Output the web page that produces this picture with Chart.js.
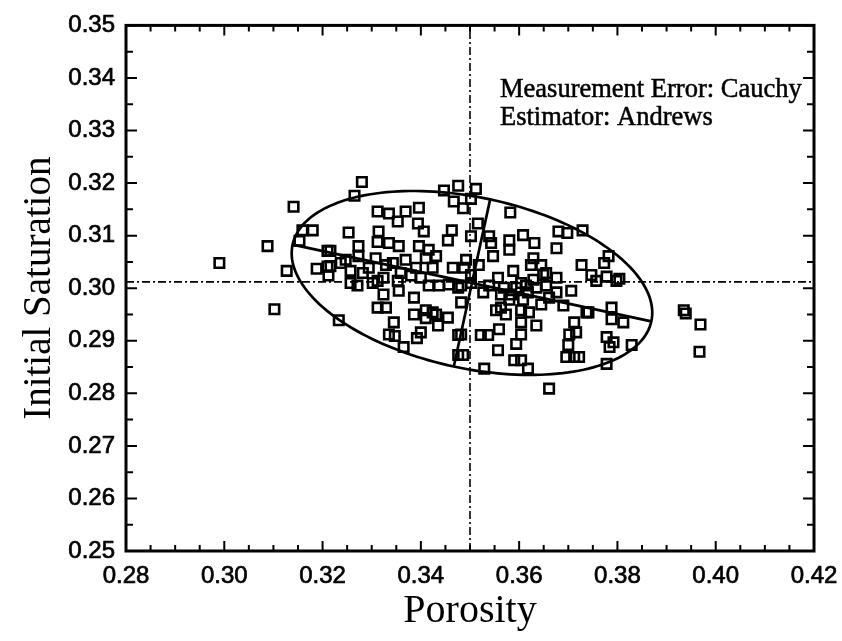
<!DOCTYPE html>
<html lang="en">
<head>
<meta charset="UTF-8" />
<title>Initial Saturation vs Porosity</title>
<script src="https://cdn.jsdelivr.net/npm/chart.js"></script>
<style>
  html, body { margin: 0; padding: 0; background: #fff; }
  .wrap { width: 842px; height: 641px; }
</style>
</head>
<body>
<div class="wrap"><canvas id="satChart" width="842" height="641"></canvas></div>
<script>
// sample estimates
const porosity = [
  0.2990, 0.3088, 0.3102, 0.3141, 0.3127, 0.3159, 0.3180, 0.3153, 0.3188, 0.3210,
  0.3210, 0.3280, 0.3265, 0.3447, 0.3476, 0.3467, 0.3312, 0.3335, 0.3353, 0.3369,
  0.3396, 0.3394, 0.3406, 0.3253, 0.3314, 0.3312, 0.3335, 0.3355, 0.3463, 0.3455,
  0.3273, 0.3216, 0.3396, 0.3416, 0.3247, 0.3273, 0.3308, 0.3294, 0.3343, 0.3369,
  0.3390, 0.3410, 0.3431, 0.3424, 0.3216, 0.3257, 0.3465, 0.3512, 0.3502, 0.3486,
  0.3582, 0.3516, 0.3502, 0.3539, 0.3543, 0.3580, 0.3608, 0.3631, 0.3580, 0.3547,
  0.3629, 0.3624, 0.3680, 0.3698, 0.3729, 0.3676, 0.3727, 0.3492, 0.3488, 0.3588,
  0.3655, 0.3782, 0.3773, 0.3747, 0.3778, 0.3804, 0.3233, 0.3257, 0.3271, 0.3312,
  0.3324, 0.3312, 0.3329, 0.3345, 0.3335, 0.3347, 0.3365, 0.3355, 0.3386, 0.3386,
  0.3410, 0.3410, 0.3431, 0.3455, 0.3435, 0.3400, 0.3392, 0.3416, 0.3437, 0.3457,
  0.3476, 0.3302, 0.3324, 0.3353, 0.3380, 0.3212, 0.3476, 0.3476, 0.3502, 0.3527,
  0.3482, 0.3553, 0.3580, 0.3608, 0.3604, 0.3604, 0.3635, 0.3604, 0.3594, 0.3559,
  0.3522, 0.3537, 0.3557, 0.3486, 0.3482, 0.3529, 0.3590, 0.3604, 0.3618, 0.3661,
  0.3702, 0.3700, 0.3712, 0.3737, 0.3712, 0.3722, 0.3706, 0.3655, 0.3676, 0.3690,
  0.3629, 0.3649, 0.3635, 0.3618, 0.3569, 0.3584, 0.3557, 0.3539, 0.3482, 0.3757,
  0.3798, 0.3741, 0.3788, 0.3788, 0.3812, 0.3778, 0.3792, 0.3784, 0.3829, 0.3778,
  0.3935, 0.3939, 0.3969, 0.3967, 0.3563, 0.3573, 0.3716, 0.3696, 0.3424, 0.3502,
  0.3518, 0.3614, 0.3645, 0.3676, 0.3594, 0.3604, 0.3563, 0.3661, 0.3645, 0.3620,
  0.3237, 0.3282, 0.3329, 0.3359, 0.3400
];
const saturation = [
  0.3048, 0.3080, 0.2960, 0.3155, 0.3033, 0.3110, 0.3110, 0.3090, 0.3037, 0.3071,
  0.3041, 0.3202, 0.3176, 0.3186, 0.3195, 0.3165, 0.3146, 0.3142, 0.3127, 0.3146,
  0.3153, 0.3123, 0.3108, 0.3106, 0.3108, 0.3088, 0.3086, 0.3080, 0.3110, 0.3091,
  0.3080, 0.3071, 0.3080, 0.3073, 0.3054, 0.3061, 0.3057, 0.3039, 0.3048, 0.3054,
  0.3039, 0.3057, 0.3061, 0.3039, 0.3042, 0.3033, 0.3039, 0.3189, 0.3170, 0.3152,
  0.3144, 0.3123, 0.3099, 0.3099, 0.3086, 0.3091, 0.3101, 0.3086, 0.3073, 0.3061,
  0.3057, 0.3044, 0.3108, 0.3105, 0.3110, 0.3076, 0.3044, 0.3054, 0.3039, 0.3033,
  0.3029, 0.3061, 0.3048, 0.3025, 0.3022, 0.3018, 0.2939, 0.3010, 0.3005, 0.3014,
  0.2988, 0.2963, 0.2963, 0.2935, 0.2912, 0.2909, 0.2888, 0.2995, 0.2982, 0.2950,
  0.2958, 0.2943, 0.2950, 0.2944, 0.2929, 0.2916, 0.2905, 0.3005, 0.3005, 0.3007,
  0.3001, 0.3010, 0.3020, 0.3014, 0.3024, 0.3024, 0.2911, 0.2873, 0.3010, 0.2992,
  0.2973, 0.2958, 0.2978, 0.2978, 0.2958, 0.2935, 0.2929, 0.2912, 0.2894, 0.2922,
  0.2911, 0.2911, 0.2882, 0.2873, 0.2912, 0.2847, 0.2863, 0.2863, 0.2847, 0.2809,
  0.2912, 0.2892, 0.2935, 0.2954, 0.2869, 0.2869, 0.2995, 0.3005, 0.2992, 0.2967,
  0.3016, 0.3025, 0.3001, 0.2992, 0.3001, 0.2988, 0.3020, 0.3005, 0.3005, 0.3014,
  0.3014, 0.2954, 0.2963, 0.2941, 0.2935, 0.2907, 0.2897, 0.2888, 0.2892, 0.2856,
  0.2958, 0.2952, 0.2931, 0.2879, 0.2963, 0.2950, 0.2916, 0.2869, 0.2954, 0.3025,
  0.3044, 0.3005, 0.3044, 0.3020, 0.3001, 0.3010, 0.2988, 0.2982, 0.2969, 0.2954,
  0.3048, 0.3029, 0.3044, 0.3029, 0.3020
];

// dash-dot reference lines (true values)
const trueX = 0.350;
const trueY = 0.3012;

// ellipse: centre, end of the long axis, end of the short axis
const ellipseCenter = [0.3504, 0.3010];
const ellipseMajorEnd = [0.3869, 0.2937];
const ellipseMinorEnd = [0.3541, 0.3169];

const notes = ['Measurement Error: Cauchy', 'Estimator: Andrews'];

const xMin = 0.28, xMax = 0.42, xStep = 0.02;
const yMin = 0.25, yMax = 0.35, yStep = 0.01;

const points = porosity.map((p, i) => ({ x: p, y: saturation[i] }));

// ellipse + its two axes, drawn through the scales
const ellipsePlugin = {
  id: 'ellipsePlugin',
  beforeDatasetsDraw(chart) {
    const { ctx, scales: { x, y } } = chart;
    const cx = x.getPixelForValue(ellipseCenter[0]);
    const cy = y.getPixelForValue(ellipseCenter[1]);
    const ax = x.getPixelForValue(ellipseMajorEnd[0]) - cx;
    const ay = y.getPixelForValue(ellipseMajorEnd[1]) - cy;
    const bx = x.getPixelForValue(ellipseMinorEnd[0]) - cx;
    const by = y.getPixelForValue(ellipseMinorEnd[1]) - cy;
    ctx.save();
    ctx.strokeStyle = '#000';
    ctx.lineWidth = 2.7;
    ctx.beginPath();
    for (let i = 0; i <= 180; i++) {
      const t = i / 180 * Math.PI * 2;
      const px = cx + ax * Math.cos(t) + bx * Math.sin(t);
      const py = cy + ay * Math.cos(t) + by * Math.sin(t);
      if (i === 0) ctx.moveTo(px, py); else ctx.lineTo(px, py);
    }
    ctx.closePath();
    ctx.stroke();
    ctx.beginPath();
    ctx.moveTo(cx - ax, cy - ay);
    ctx.lineTo(cx + ax, cy + ay);
    ctx.moveTo(cx - bx, cy - by);
    ctx.lineTo(cx + bx, cy + by);
    ctx.stroke();
    ctx.restore();
  }
};

// box frame, inward ticks, notes
const framePlugin = {
  id: 'framePlugin',
  afterDraw(chart) {
    const { ctx, chartArea: a, scales: { x, y } } = chart;
    ctx.save();
    ctx.strokeStyle = '#000';
    ctx.lineWidth = 2;
    ctx.beginPath();
    for (let i = 0; i <= 28; i++) {
      const px = x.getPixelForValue(xMin + i * 0.005);
      const len = i % 4 === 0 ? 10 : 6;
      ctx.moveTo(px, a.bottom); ctx.lineTo(px, a.bottom - len);
      ctx.moveTo(px, a.top); ctx.lineTo(px, a.top + len);
    }
    for (let i = 0; i <= 20; i++) {
      const py = y.getPixelForValue(yMin + i * 0.005);
      const len = i % 2 === 0 ? 11 : 7;
      ctx.moveTo(a.left, py); ctx.lineTo(a.left + len, py);
      ctx.moveTo(a.right, py); ctx.lineTo(a.right - len, py);
    }
    ctx.stroke();
    ctx.lineWidth = 3;
    ctx.strokeRect(a.left, a.top, a.right - a.left, a.bottom - a.top);

    ctx.fillStyle = '#000';
    ctx.strokeStyle = '#000';
    ctx.lineWidth = 0.5;
    ctx.font = '26.5px "Liberation Serif", "Times New Roman", serif';
    ctx.textBaseline = 'alphabetic';
    notes.forEach((t, i) => {
      ctx.fillText(t, a.left + 374, a.top + 72 + i * 28);
      ctx.strokeText(t, a.left + 374, a.top + 72 + i * 28);
    });
    ctx.restore();
  }
};

new Chart(document.getElementById('satChart'), {
  type: 'scatter',
  data: {
    datasets: [
      {
        label: 'estimates',
        data: points,
        pointStyle: 'rect',
        pointRadius: 6.7,
        pointBorderWidth: 2.6,
        borderColor: '#000',
        backgroundColor: 'rgba(0,0,0,0)'
      },
      {
        label: 'true porosity',
        type: 'line',
        data: [{ x: trueX, y: yMin }, { x: trueX, y: yMax }],
        borderColor: '#000',
        borderWidth: 1.6,
        borderDash: [8, 3, 2, 3],
        pointRadius: 0
      },
      {
        label: 'true saturation',
        type: 'line',
        data: [{ x: xMin, y: trueY }, { x: xMax, y: trueY }],
        borderColor: '#000',
        borderWidth: 1.6,
        borderDash: [8, 3, 2, 3],
        pointRadius: 0
      }
    ]
  },
  options: {
    responsive: false,
    animation: false,
    devicePixelRatio: 1,
    layout: { padding: { top: 20, right: 28, left: 0, bottom: 0 } },
    plugins: {
      legend: { display: false },
      tooltip: { enabled: false }
    },
    scales: {
      x: {
        type: 'linear',
        min: xMin,
        max: xMax,
        afterFit: s => { s.height = 90; s.paddingLeft = 0; s.paddingRight = 0; },
        grid: { display: false, drawTicks: false },
        border: { display: false },
        ticks: {
          stepSize: xStep,
          padding: 11,
          color: '#000',
          textStrokeColor: '#000',
          textStrokeWidth: 0.7,
          font: { family: '"Liberation Sans", Arial, sans-serif', size: 24 },
          callback: v => v.toFixed(2)
        },
        title: {
          display: true,
          text: 'Porosity',
          color: '#000',
          padding: { top: 0, bottom: 6 },
          font: { family: '"Liberation Serif", "Times New Roman", serif', size: 40 }
        }
      },
      y: {
        type: 'linear',
        min: yMin,
        max: yMax,
        afterFit: s => { s.width = 126; },
        grid: { display: false, drawTicks: false },
        border: { display: false },
        ticks: {
          stepSize: yStep,
          padding: 11,
          color: '#000',
          textStrokeColor: '#000',
          textStrokeWidth: 0.7,
          font: { family: '"Liberation Sans", Arial, sans-serif', size: 24 },
          callback: v => v.toFixed(2)
        },
        title: {
          display: true,
          text: 'Initial Saturation',
          color: '#000',
          padding: { top: 16, bottom: 0 },
          font: { family: '"Liberation Serif", "Times New Roman", serif', size: 39 }
        }
      }
    }
  },
  plugins: [ellipsePlugin, framePlugin]
});
</script>
</body>
</html>
